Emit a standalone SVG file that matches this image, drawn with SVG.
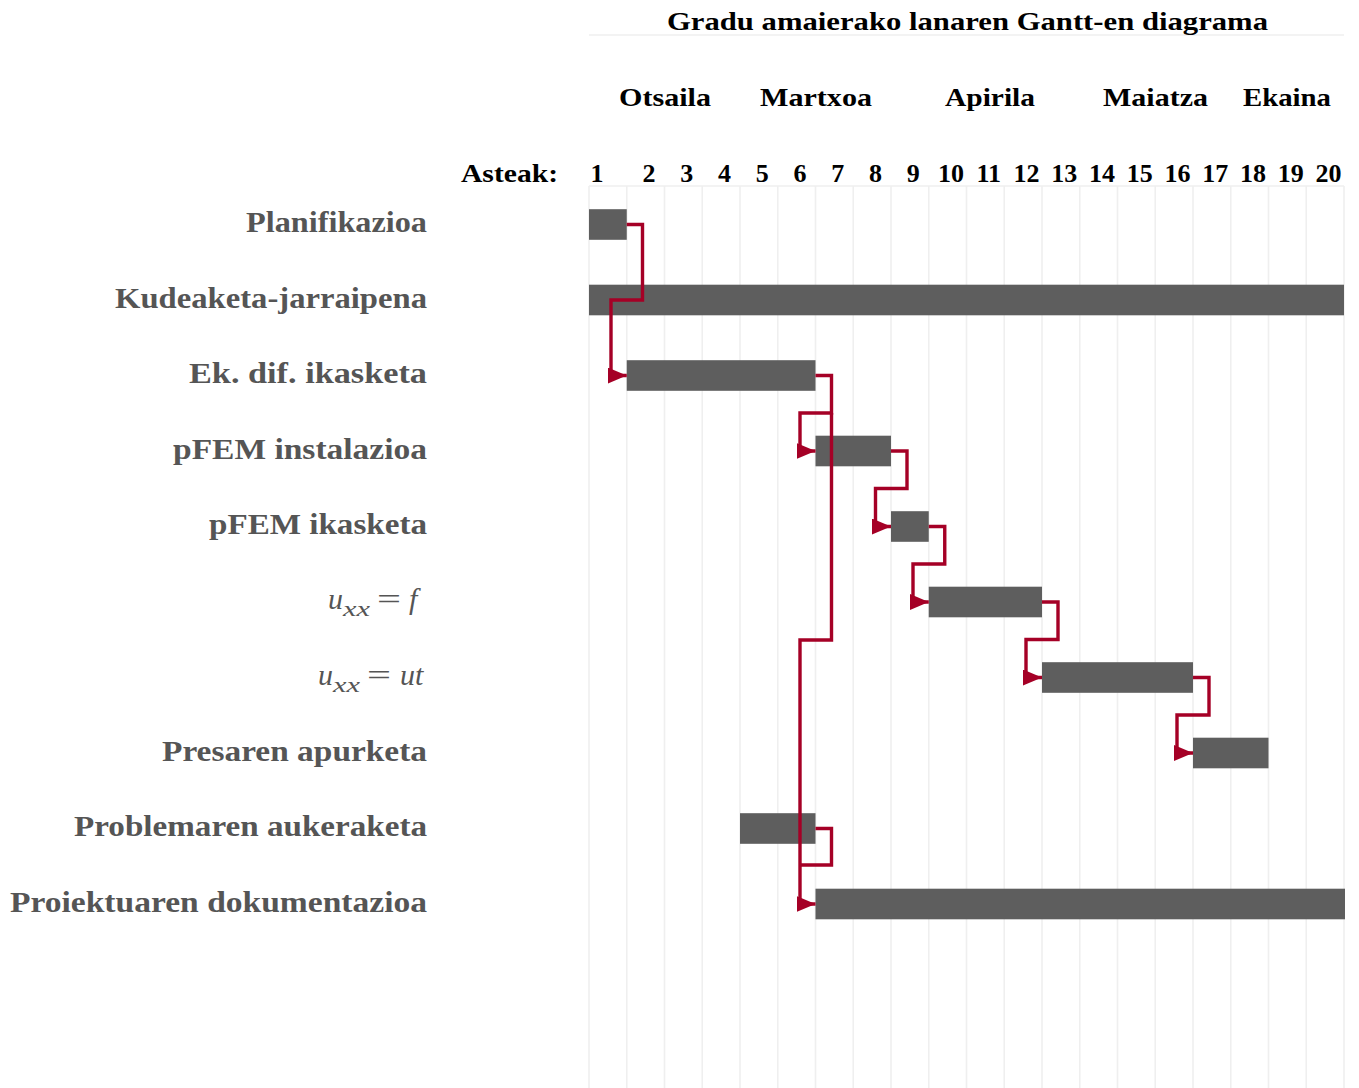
<svg xmlns="http://www.w3.org/2000/svg" width="1359" height="1088" viewBox="0 0 1359 1088">
<style>
.hdr{font-family:"Liberation Serif",serif;font-weight:bold;fill:#000;}
.lbl{font-family:"Liberation Serif",serif;font-weight:bold;fill:#555;font-size:29px;text-anchor:end;}
.math{font-family:"Liberation Serif",serif;font-style:italic;fill:#555;font-size:30px;}
.sub{font-size:21px;}
.op{font-style:normal;}
.grid{stroke:#efefef;stroke-width:1.6;}
.bar{fill:#5e5e5e;}
.con{fill:none;stroke:#a50026;stroke-width:3.4;marker-end:url(#ah);}
.conn{fill:none;stroke:#a50026;stroke-width:3.4;}
</style>
<defs>
<marker id="ah" markerUnits="userSpaceOnUse" markerWidth="20" markerHeight="16" refX="19" refY="8" orient="auto">
<path d="M0,0 L19,8 L0,16 Z" fill="#a50026"/>
</marker>
</defs>
<rect width="1359" height="1088" fill="#fff"/>
<g id="grid">
<line class="grid" x1="589" y1="35" x2="1344" y2="35"/>
<line class="grid" x1="589" y1="186" x2="1344" y2="186"/>
<line class="grid" x1="589" y1="186" x2="589" y2="1088"/>
<line class="grid" x1="626.75" y1="186" x2="626.75" y2="1088"/>
<line class="grid" x1="664.5" y1="186" x2="664.5" y2="1088"/>
<line class="grid" x1="702.25" y1="186" x2="702.25" y2="1088"/>
<line class="grid" x1="740" y1="186" x2="740" y2="1088"/>
<line class="grid" x1="777.75" y1="186" x2="777.75" y2="1088"/>
<line class="grid" x1="815.5" y1="186" x2="815.5" y2="1088"/>
<line class="grid" x1="853.25" y1="186" x2="853.25" y2="1088"/>
<line class="grid" x1="891" y1="186" x2="891" y2="1088"/>
<line class="grid" x1="928.75" y1="186" x2="928.75" y2="1088"/>
<line class="grid" x1="966.5" y1="186" x2="966.5" y2="1088"/>
<line class="grid" x1="1004.25" y1="186" x2="1004.25" y2="1088"/>
<line class="grid" x1="1042" y1="186" x2="1042" y2="1088"/>
<line class="grid" x1="1079.75" y1="186" x2="1079.75" y2="1088"/>
<line class="grid" x1="1117.5" y1="186" x2="1117.5" y2="1088"/>
<line class="grid" x1="1155.25" y1="186" x2="1155.25" y2="1088"/>
<line class="grid" x1="1193" y1="186" x2="1193" y2="1088"/>
<line class="grid" x1="1230.75" y1="186" x2="1230.75" y2="1088"/>
<line class="grid" x1="1268.5" y1="186" x2="1268.5" y2="1088"/>
<line class="grid" x1="1306.25" y1="186" x2="1306.25" y2="1088"/>
<line class="grid" x1="1344" y1="186" x2="1344" y2="1088"/>
</g>
<g id="header">
<text class="hdr" x="667" y="30" font-size="25" textLength="601" lengthAdjust="spacingAndGlyphs">Gradu amaierako lanaren Gantt-en diagrama</text>
<text class="hdr" x="619" y="106" font-size="26" textLength="92" lengthAdjust="spacingAndGlyphs">Otsaila</text>
<text class="hdr" x="760" y="106" font-size="26" textLength="112" lengthAdjust="spacingAndGlyphs">Martxoa</text>
<text class="hdr" x="945" y="106" font-size="26" textLength="90" lengthAdjust="spacingAndGlyphs">Apirila</text>
<text class="hdr" x="1103" y="106" font-size="26" textLength="105" lengthAdjust="spacingAndGlyphs">Maiatza</text>
<text class="hdr" x="1243" y="106" font-size="26" textLength="88" lengthAdjust="spacingAndGlyphs">Ekaina</text>
<text class="hdr" x="461" y="182" font-size="26" textLength="97" lengthAdjust="spacingAndGlyphs">Asteak:</text>
<g class="hdr" font-size="26" text-anchor="middle">
<text x="597" y="182">1</text>
<text x="649" y="182">2</text>
<text x="686.75" y="182">3</text>
<text x="724.5" y="182">4</text>
<text x="762.25" y="182">5</text>
<text x="800" y="182">6</text>
<text x="837.75" y="182">7</text>
<text x="875.5" y="182">8</text>
<text x="913.25" y="182">9</text>
<text x="951" y="182">10</text>
<text x="988.75" y="182">11</text>
<text x="1026.5" y="182">12</text>
<text x="1064.25" y="182">13</text>
<text x="1102" y="182">14</text>
<text x="1139.75" y="182">15</text>
<text x="1177.5" y="182">16</text>
<text x="1215.25" y="182">17</text>
<text x="1253" y="182">18</text>
<text x="1290.75" y="182">19</text>
<text x="1328.5" y="182">20</text>
</g>
</g>
<g id="task1"><text class="lbl" x="427" y="232" textLength="181" lengthAdjust="spacingAndGlyphs">Planifikazioa</text><rect class="bar" x="589" y="209.2" width="37.75" height="30.6"/></g>
<g id="task2"><text class="lbl" x="427" y="307.5" textLength="312" lengthAdjust="spacingAndGlyphs">Kudeaketa-jarraipena</text><rect class="bar" x="589" y="284.7" width="755" height="30.6"/></g>
<g id="task3"><text class="lbl" x="427" y="383" textLength="238" lengthAdjust="spacingAndGlyphs">Ek. dif. ikasketa</text><rect class="bar" x="626.75" y="360.2" width="188.75" height="30.6"/></g>
<g id="task4"><text class="lbl" x="427" y="458.5" textLength="254" lengthAdjust="spacingAndGlyphs">pFEM instalazioa</text><rect class="bar" x="815.5" y="435.7" width="75.5" height="30.6"/></g>
<g id="task5"><text class="lbl" x="427" y="534" textLength="218" lengthAdjust="spacingAndGlyphs">pFEM ikasketa</text><rect class="bar" x="891" y="511.2" width="37.75" height="30.6"/></g>
<g id="task6"><text class="math" y="609"><tspan x="328">u</tspan><tspan class="sub" x="343" y="616" textLength="27" lengthAdjust="spacingAndGlyphs">xx</tspan><tspan class="op" x="377" y="609" textLength="24" lengthAdjust="spacingAndGlyphs">=</tspan><tspan x="409">f</tspan></text><rect class="bar" x="928.75" y="586.7" width="113.25" height="30.6"/></g>
<g id="task7"><text class="math" y="685"><tspan x="318">u</tspan><tspan class="sub" x="333" y="692" textLength="27" lengthAdjust="spacingAndGlyphs">xx</tspan><tspan class="op" x="367" y="685" textLength="24" lengthAdjust="spacingAndGlyphs">=</tspan><tspan x="400">ut</tspan></text><rect class="bar" x="1042" y="662.2" width="151" height="30.6"/></g>
<g id="task8"><text class="lbl" x="427" y="760.5" textLength="265" lengthAdjust="spacingAndGlyphs">Presaren apurketa</text><rect class="bar" x="1193" y="737.7" width="75.5" height="30.6"/></g>
<g id="task9"><text class="lbl" x="427" y="836" textLength="353" lengthAdjust="spacingAndGlyphs">Problemaren aukeraketa</text><rect class="bar" x="740" y="813.2" width="75.5" height="30.6"/></g>
<g id="task10"><text class="lbl" x="427" y="911.5" textLength="417" lengthAdjust="spacingAndGlyphs">Proiektuaren dokumentazioa</text><rect class="bar" x="815.5" y="888.7" width="529.5" height="30.6"/></g>
<g id="connectors">
<path class="con" d="M626.75,224.5 H642.5 V300 H611 V375.5 H626.75"/>
<path class="con" d="M815.5,375.5 H831.5 V413 H800 V451 H815.5"/>
<path class="con" d="M831.5,413 V640 H800 V904 H815.5"/>
<path class="conn" d="M815.5,828.5 H831.5 V865 H800"/>
<path class="con" d="M891,451 H907 V488.5 H875.5 V526.5 H891"/>
<path class="con" d="M928.75,526.5 H944.75 V564 H913 V602 H928.75"/>
<path class="con" d="M1042,602 H1058 V639.5 H1026 V677.5 H1042"/>
<path class="con" d="M1193,677.5 H1209 V715 H1177 V753 H1193"/>
</g>
</svg>
